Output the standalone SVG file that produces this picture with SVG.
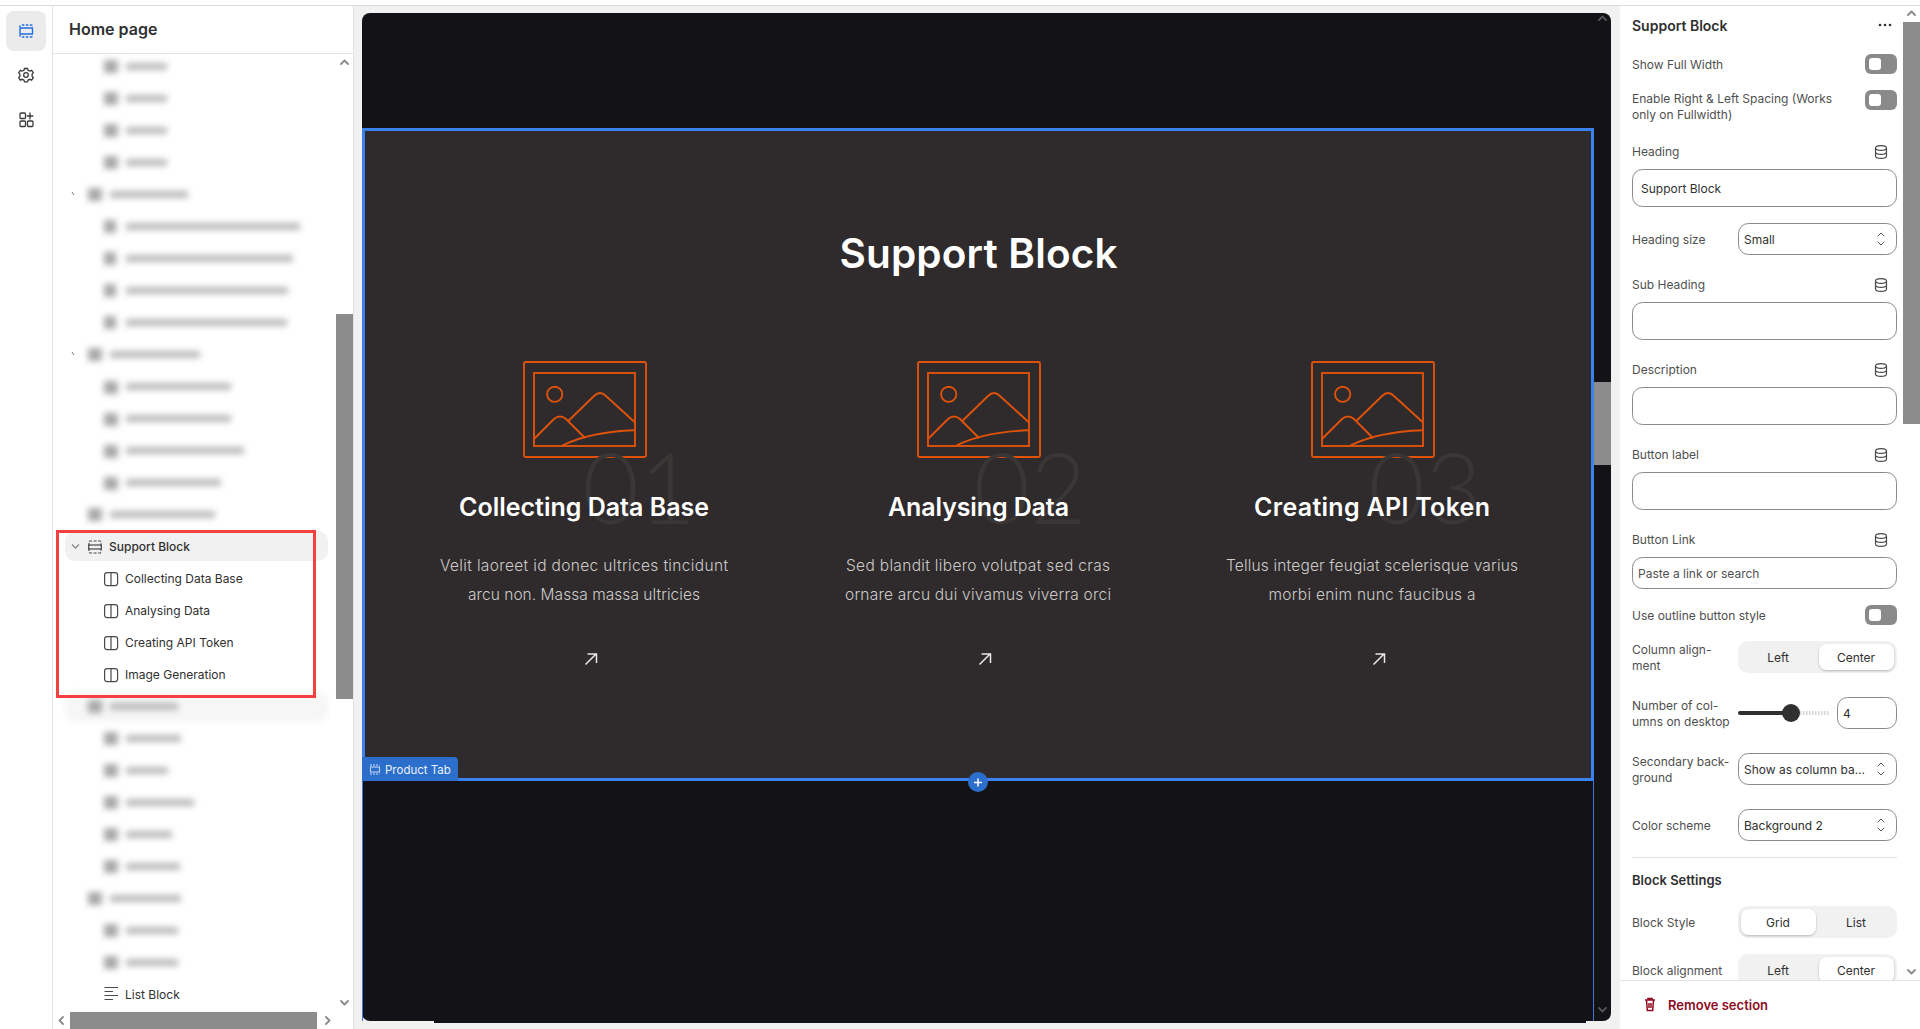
<svg xmlns="http://www.w3.org/2000/svg" xmlns:xlink="http://www.w3.org/1999/xlink" width="1920" height="1029" viewBox="0 0 1920 1029">
<style>
text{font-family:Inter,"Noto Sans","Liberation Sans",sans-serif;font-size:12px;fill:#303030}
.lab{fill:#4f4f4f}
.b{font-weight:600}
.dark{fill:#303030}
.h{fill:#fff;text-anchor:middle}
.ct{font-size:25px;font-weight:600}
.bd{font-size:15.5px;font-weight:300;fill:#cdcaca}
.num{font-family:Lato,"Noto Sans",sans-serif;font-size:98px;font-weight:300;fill:#3a3636;text-anchor:middle}
.fld{fill:#fff;stroke:#8a8a8a;stroke-width:1}
.seg{fill:#f1f1f1}
.act{fill:#fff;filter:url(#sh)}
.c{text-anchor:middle}
.ic{fill:none;stroke:#4a4a4a;stroke-width:1.2}
.blur rect{fill:#a9a9a9}
.sb{fill:#8c8c8c}
.ar{fill:none;stroke:#8a8a8a;stroke-width:1.8;stroke-linecap:round;stroke-linejoin:round}
.or{fill:none;stroke:#df520a;stroke-width:1.9}
.arw{fill:none;stroke:#e8e8e8;stroke-width:1.5}
</style>
<defs>
<filter id="bl" x="-20%" y="-120%" width="140%" height="340%"><feGaussianBlur stdDeviation="3"/></filter>
<filter id="sh" x="-10%" y="-20%" width="120%" height="150%"><feDropShadow dx="0" dy="1" stdDeviation="0.8" flood-color="#000" flood-opacity=".25"/></filter>
<g id="pic">
<rect class="or" x="-61" y="0" width="122" height="95" rx="1.5"/>
<rect class="or" x="-51" y="11" width="101" height="73"/>
<circle class="or" cx="-30.300" cy="32.300" r="7.600"/>
<path class="or" d="M-51 77L-31 57Q-25 52 -19 57L0 76"/>
<path class="or" d="M-16.700 59L9 34Q15 28 21 34L49.500 60"/>
<path class="or" d="M-22.700 83.500Q5 70 49.500 68.300"/>
</g>
<g id="col"><rect class="ic" x="104.600" y="-6.400" width="13" height="13" rx="2.500"/><path class="ic" d="M111 -6V6.500"/></g>
<g id="db"><ellipse class="ic" cx="0" cy="-4" rx="5.500" ry="2.400"/><path class="ic" d="M-5.500 -4V4Q-5.500 6.400 0 6.400T5.500 4V-4M-5.500 0Q-5.500 2.400 0 2.400T5.500 0"/></g>
<g id="ud"><path class="ar" style="stroke-width:1;stroke:#555" d="M-3 -3L0 -6L3 -3M-3 3L0 6L3 3"/></g>
<g id="tog"><rect x="0" y="0" width="32" height="20" rx="6" fill="#8a8a8a"/><rect x="4" y="4" width="12" height="12" rx="3" fill="#fff"/></g>
</defs>

<rect width="1920" height="1029" fill="#fff"/>
<g id="canvas-bg">
<rect x="353" y="5" width="1267" height="1024" fill="#f1f1f1"/>
<rect x="362" y="13" width="1249" height="1008" rx="8" fill="#131217"/>
<rect x="434" y="1020" width="1152" height="3" fill="#131217"/>
</g>
<rect y="0" width="1920" height="5" fill="#fff"/><rect y="5" width="1920" height="1" fill="#dcdcdc"/>

<g id="rail">
<rect x="6" y="11" width="40" height="40" rx="8" fill="#ebebeb"/>
<g fill="none" stroke="#1f6fe0" stroke-width="1.400"><path d="M20 28V26.500Q20 25 21.500 25H31Q32.500 25 32.500 26.500V28M20 34V35.500Q20 37 21.500 37H31Q32.500 37 32.500 35.500V34" stroke-dasharray="2.500 1.500"/><rect x="20" y="28" width="12.500" height="6" rx="1"/></g>
<g fill="none" stroke="#3a3a3a" stroke-width="1.300"><circle cx="26" cy="75" r="2.300"/><path d="M24.500 68.500h3l.6 1.800 1.800.8 1.700-.8 1.700 2.400-1.200 1.500v2l1.200 1.500-1.700 2.400-1.700-.8-1.800.8-.6 1.800h-3l-.6-1.800-1.800-.8-1.700.8-1.700-2.400 1.200-1.500v-2l-1.200-1.500 1.700-2.400 1.700.8 1.800-.8z"/>
<rect x="20" y="113" width="5.500" height="5.500" rx="1"/><rect x="20" y="121" width="5.500" height="5.500" rx="1"/><rect x="27.500" y="121" width="5.500" height="5.500" rx="1"/><path d="M30 112.500v7M26.800 116h6.500"/></g>
</g>
<rect x="52" y="6" width="1" height="1023" fill="#e3e3e3"/>
<rect x="353" y="6" width="1" height="1023" fill="#e3e3e3"/>

<g id="tree">
<text x="69" y="35" class="b" style="font-size:16px">Home page</text>
<rect x="53" y="53" width="300" height="1" fill="#e3e3e3"/>
<rect x="65" y="691" width="263" height="31" rx="10" fill="#f6f6f6" filter="url(#bl)"/>
<g class="blur" filter="url(#bl)">
<g id="blur-icons"><rect x="104" y="60" width="14" height="13"/><rect x="104" y="92" width="14" height="13"/><rect x="104" y="124" width="14" height="13"/><rect x="104" y="156" width="14" height="13"/>
<rect x="88" y="188" width="14" height="13"/><rect x="104" y="220" width="12" height="13"/><rect x="104" y="252" width="12" height="13"/><rect x="104" y="284" width="12" height="13"/><rect x="104" y="316" width="12" height="13"/>
<rect x="88" y="348" width="14" height="13"/><rect x="104" y="381" width="14" height="13"/><rect x="104" y="413" width="14" height="13"/><rect x="104" y="445" width="14" height="13"/><rect x="104" y="477" width="14" height="13"/>
<rect x="88" y="508" width="14" height="13"/>
<rect x="88" y="700" width="14" height="13"/><rect x="104" y="732" width="14" height="13"/><rect x="104" y="764" width="14" height="13"/><rect x="104" y="796" width="14" height="13"/><rect x="104" y="828" width="14" height="13"/><rect x="104" y="860" width="14" height="13"/>
<rect x="88" y="892" width="14" height="13"/><rect x="104" y="924" width="14" height="13"/><rect x="104" y="956" width="14" height="13"/></g>
<g id="blur-labels" opacity=".8">
<rect x="126" y="63" width="41" height="7"/><rect x="126" y="95" width="41" height="7"/><rect x="126" y="127" width="41" height="7"/><rect x="126" y="159" width="41" height="7"/>
<rect x="110" y="191" width="78" height="7"/><rect x="126" y="223" width="174" height="7"/><rect x="126" y="255" width="167" height="7"/><rect x="126" y="287" width="162" height="7"/><rect x="126" y="319" width="161" height="7"/>
<rect x="110" y="351" width="90" height="7"/><rect x="126" y="383" width="105" height="7"/><rect x="126" y="415" width="105" height="7"/><rect x="126" y="447" width="118" height="7"/><rect x="126" y="479" width="95" height="7"/>
<rect x="110" y="511" width="105" height="7"/>
<rect x="110" y="703" width="68" height="7"/><rect x="126" y="735" width="55" height="7"/><rect x="126" y="767" width="42" height="7"/><rect x="126" y="799" width="68" height="7"/><rect x="126" y="831" width="46" height="7"/><rect x="126" y="863" width="54" height="7"/>
<rect x="110" y="895" width="71" height="7"/><rect x="126" y="927" width="52" height="7"/><rect x="126" y="959" width="52" height="7"/></g>
</g>
<path d="M72 192l2 3M72 352l2 3" stroke="#777" stroke-width="1"/>

<g id="node-support-block">
<rect x="65" y="531" width="263" height="30" rx="10" fill="#f1f1f1"/>
<path d="M72 544.500l3.500 3.500 3.500-3.500" fill="none" stroke="#8a8a8a" stroke-width="1.300"/>
<g class="ic"><path d="M89 546V542Q89 541 90 541H100Q101 541 101 542V546M89 548V552Q89 553 90 553H100Q101 553 101 552V548" stroke-dasharray="3 1.500"/><rect x="88.700" y="545" width="12.600" height="4"/></g>
<text x="109" y="551" class="dark" style="font-weight:500">Support Block</text>
</g>
<g id="node-collecting"><use xlink:href="#col" y="579"/><text x="125" y="583">Collecting Data Base</text></g>
<g id="node-analysing"><use xlink:href="#col" y="611"/><text x="125" y="615">Analysing Data</text></g>
<g id="node-creating"><use xlink:href="#col" y="643"/><text x="125" y="647">Creating API Token</text></g>
<g id="node-image"><use xlink:href="#col" y="675"/><text x="125" y="679">Image Generation</text></g>
<g id="node-list"><path class="ic" d="M104.500 987.500H118M104.500 991.500H113M104.500 995.500H118M104.500 999.500H113"/><text x="125" y="999">List Block</text></g>
<rect x="57.500" y="531.500" width="257" height="165" fill="none" stroke="#f44040" stroke-width="3"/>
<rect class="sb" x="336" y="314" width="17" height="385"/>
<rect class="sb" x="70" y="1012" width="247" height="17"/>
<path class="ar" d="M341 64l3.500-3.500 3.500 3.500M341 1001l3.500 3.500 3.500-3.500M63 1017l-3.500 3.500 3.500 3.500M326 1017l3.500 3.500-3.500 3.500"/>
</g>

<g id="canvas">
<rect x="364" y="130" width="1229" height="650" fill="#2f2a2b"/>
<text class="h" x="978.500" y="268" textLength="278" style="font-size:40.500px;font-weight:600">Support Block</text>
<g id="card1">
<use xlink:href="#pic" x="585" y="362"/>
<text class="num" x="639" y="524">01</text>
<text class="h ct" x="584" y="515.500" textLength="250">Collecting Data Base</text>
<text class="h bd" x="584" y="570.500" textLength="288">Velit laoreet id donec ultrices tincidunt</text>
<text class="h bd" x="584" y="599.500" textLength="232">arcu non. Massa massa ultricies</text>
<path class="arw" d="M585.500 664.500L596 654M587.500 654H596.500V663"/>
</g>
<g id="card2">
<use xlink:href="#pic" x="979" y="362"/>
<text class="num" x="1030" y="524">02</text>
<text class="h ct" x="978.500" y="515.500" textLength="181">Analysing Data</text>
<text class="h bd" x="978" y="570.500" textLength="264">Sed blandit libero volutpat sed cras</text>
<text class="h bd" x="978" y="599.500" textLength="266">ornare arcu dui vivamus viverra orci</text>
<path class="arw" d="M979.500 664.500L990 654M981.500 654H990.500V663"/>
</g>
<g id="card3">
<use xlink:href="#pic" x="1373" y="362"/>
<text class="num" x="1425" y="524">03</text>
<text class="h ct" x="1372" y="515.500" textLength="236">Creating API Token</text>
<text class="h bd" x="1372" y="570.500" textLength="292">Tellus integer feugiat scelerisque varius</text>
<text class="h bd" x="1372" y="599.500" textLength="207">morbi enim nunc faucibus a</text>
<path class="arw" d="M1373.500 664.500L1384 654M1375.500 654H1384.500V663"/>
</g>
<rect x="363.500" y="129.500" width="1229" height="650" fill="none" stroke="#3b82f0" stroke-width="3"/>
<path d="M362.500 780V1021M1593.500 780V1021" stroke="#3b78d8" stroke-width="1"/>
<path d="M362 757H454Q458 757 458 761V781H362z" fill="#2c6ecb"/>
<g fill="none" stroke="#c9dcf7" stroke-width="1"><path d="M370 765H379.500M370 774H379.500" stroke-dasharray="2 1"/><rect x="370.500" y="767" width="9" height="5"/></g>
<text x="385" y="774" style="fill:#eaf2fd;font-size:11.500px">Product Tab</text>
<circle cx="978" cy="782" r="10" fill="#2c6ecb"/>
<path d="M974 782.500H982M978 778.500V786.500" stroke="#fff" stroke-width="1.500"/>
<rect class="sb" x="1594" y="382" width="17" height="83"/>
<path class="ar" d="M1599 20l3.500-3.500 3.500 3.500M1599 1008l3.500 3.500 3.500-3.500" style="stroke:#555"/>
</g>

<g id="panel">
<rect x="1620" y="6" width="300" height="1023" fill="#fff"/>
<text x="1632" y="31" class="b" style="font-size:14px">Support Block</text>
<g fill="#333"><circle cx="1880" cy="25" r="1.300"/><circle cx="1885" cy="25" r="1.300"/><circle cx="1890" cy="25" r="1.300"/></g>
<text class="lab" x="1632" y="69">Show Full Width</text><use xlink:href="#tog" x="1865" y="54"/>
<text class="lab" x="1632" y="103">Enable Right &amp; Left Spacing (Works</text><text class="lab" x="1632" y="119">only on Fullwidth)</text><use xlink:href="#tog" x="1865" y="90"/>
<text class="lab" x="1632" y="156">Heading</text><use xlink:href="#db" x="1881" y="152"/>
<rect class="fld" x="1632.500" y="169.500" width="264" height="37" rx="10"/><text x="1641" y="193">Support Block</text>
<text class="lab" x="1632" y="244">Heading size</text>
<rect class="fld" x="1738.500" y="223.500" width="158" height="31" rx="10"/><text x="1744" y="244">Small</text><use xlink:href="#ud" x="1881" y="239"/>
<text class="lab" x="1632" y="289">Sub Heading</text><use xlink:href="#db" x="1881" y="285"/>
<rect class="fld" x="1632.500" y="302.500" width="264" height="37" rx="10"/>
<text class="lab" x="1632" y="374">Description</text><use xlink:href="#db" x="1881" y="370"/>
<rect class="fld" x="1632.500" y="387.500" width="264" height="37" rx="10"/>
<text class="lab" x="1632" y="459">Button label</text><use xlink:href="#db" x="1881" y="455"/>
<rect class="fld" x="1632.500" y="472.500" width="264" height="37" rx="10"/>
<text class="lab" x="1632" y="544">Button Link</text><use xlink:href="#db" x="1881" y="540"/>
<rect class="fld" x="1632.500" y="557.500" width="264" height="31" rx="10"/><text class="lab" x="1638" y="578">Paste a link or search</text>
<text class="lab" x="1632" y="620">Use outline button style</text><use xlink:href="#tog" x="1865" y="605"/>
<text class="lab" x="1632" y="654">Column align-</text><text class="lab" x="1632" y="670">ment</text>
<rect class="seg" x="1738" y="641" width="159" height="32" rx="10"/><rect class="act" x="1819" y="644" width="75" height="26" rx="8"/>
<text class="c" x="1778" y="662">Left</text><text class="c" x="1856" y="662">Center</text>
<text class="lab" x="1632" y="710">Number of col-</text><text class="lab" x="1632" y="726">umns on desktop</text>
<path d="M1740 713H1791" stroke="#303030" stroke-width="4" stroke-linecap="round"/><path d="M1800 713H1829" stroke="#d5d5d5" stroke-width="4" stroke-dasharray="1.500 1.500"/><circle cx="1791" cy="713" r="9" fill="#303030"/>
<rect class="fld" x="1837.500" y="697.500" width="59" height="31" rx="10"/><text x="1843" y="718">4</text>
<text class="lab" x="1632" y="766">Secondary back-</text><text class="lab" x="1632" y="782">ground</text>
<rect class="fld" x="1738.500" y="753.500" width="158" height="31" rx="10"/><text x="1744" y="774">Show as column ba...</text><use xlink:href="#ud" x="1881" y="769"/>
<text class="lab" x="1632" y="830">Color scheme</text>
<rect class="fld" x="1738.500" y="809.500" width="158" height="31" rx="10"/><text x="1744" y="830">Background 2</text><use xlink:href="#ud" x="1881" y="825"/>
<rect x="1632" y="857" width="265" height="1" fill="#e3e3e3"/>
<text x="1632" y="885" class="b" style="font-size:13px">Block Settings</text>
<text class="lab" x="1632" y="927">Block Style</text>
<rect class="seg" x="1738" y="906" width="159" height="32" rx="10"/><rect class="act" x="1741" y="909" width="75" height="26" rx="8"/>
<text class="c" x="1778" y="927">Grid</text><text class="c" x="1856" y="927">List</text>
<text class="lab" x="1632" y="975">Block alignment</text>
<rect class="seg" x="1738" y="954" width="159" height="32" rx="10"/><rect class="act" x="1819" y="957" width="75" height="26" rx="8"/>
<text class="c" x="1778" y="975">Left</text><text class="c" x="1856" y="975">Center</text>
<rect x="1620" y="980" width="300" height="49" fill="#fff"/><rect x="1620" y="980" width="300" height="1" fill="#e3e3e3"/>
<g fill="none" stroke="#8e0b21" stroke-width="1.500"><path d="M1645 1000H1655M1648 1000V998.500H1652V1000M1646.500 1000L1647.300 1010.500H1652.700L1653.500 1000M1649 1003V1008M1651 1003V1008"/></g>
<text x="1668" y="1010" class="b" style="fill:#8e0b21;font-size:13px">Remove section</text>
<rect class="sb" x="1903" y="22" width="17" height="402"/>
<path class="ar" d="M1908 15l3.500-3.500 3.500 3.500M1908 970l3.500 3.500 3.500-3.500"/>
</g>
</svg>
